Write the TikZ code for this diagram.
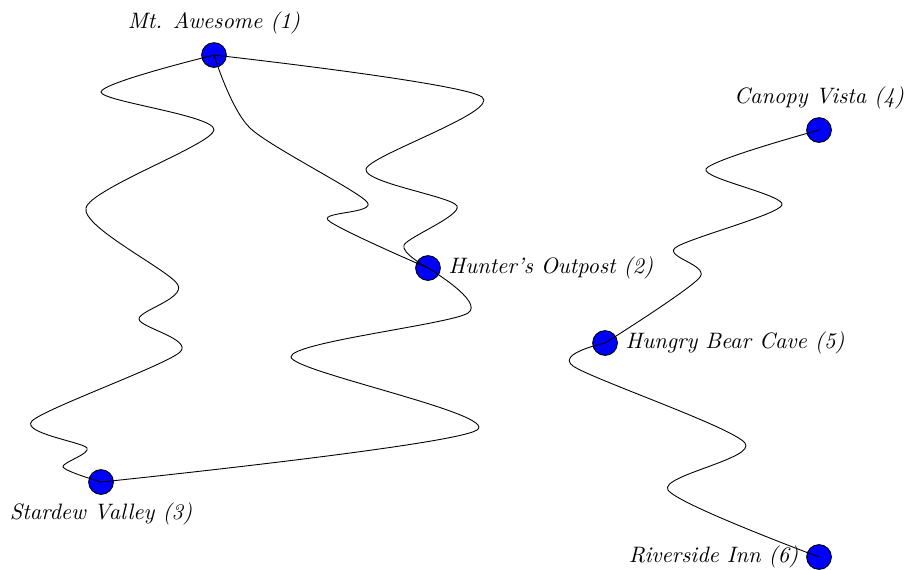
\documentclass[tikz,border=0pt]{standalone}
\usepackage{tikz}
\usepackage{amsmath}

\tikzset{
    place/.style={circle,draw=black,fill=blue,minimum size=0.39cm,inner sep=0pt},
    placename/.style={font=\itshape},
    trail/.style={smooth,tension=0.45}
}

\begin{document}
\begin{tikzpicture}[every label/.style={placename}]
    \useasboundingbox (0,0) rectangle (14.315,8.961);
    % Places
    \node[place,label={above:Mt. Awesome (1)}] (awesome) at (3.370,8.094) {};
    \node[place,label={right:Hunter's Outpost (2)}] (outpost) at (6.740,4.740) {};
    \node[place,label={below:Stardew Valley (3)}] (stardew) at (1.591,1.370) {};
    \node[place,label={above:Canopy Vista (4)}] (canopy) at (12.898,6.913) {};
    \node[place,label={right:Hungry Bear Cave (5)}] (cave) at (9.528,3.559) {};
    \node[place,label={left:Riverside Inn (6)}] (inn) at (12.898,0.189) {};
    % Trails, left group
    \draw plot[trail] coordinates {(awesome.center) (7.591,7.433) (5.764,6.299) (7.197,5.717) (6.362,5.102) (outpost.center)};
    \draw plot[trail] coordinates {(awesome.center) (3.937,6.945) (5.780,5.780) (5.165,5.496) (outpost.center)};
    \draw plot[trail] coordinates {(outpost.center) (7.370,4.031) (4.583,3.339) (7.512,2.189) (stardew.center)};
    \draw plot[trail] coordinates {(awesome.center) (1.591,7.512) (3.370,6.913) (1.354,5.685) (2.803,4.472)
        (2.189,3.937) (2.835,3.417) (0.504,2.331) (1.370,1.906) (0.992,1.606) (stardew.center)};
    % Trails, right group
    \draw plot[trail] coordinates {(canopy.center) (11.118,6.299) (12.315,5.732) (10.630,5.055) (11.024,4.598) (cave.center)};
    \draw plot[trail] coordinates {(cave.center) (9.024,3.197) (11.732,1.984) (10.520,1.244) (inn.center)};
\end{tikzpicture}
\end{document}
